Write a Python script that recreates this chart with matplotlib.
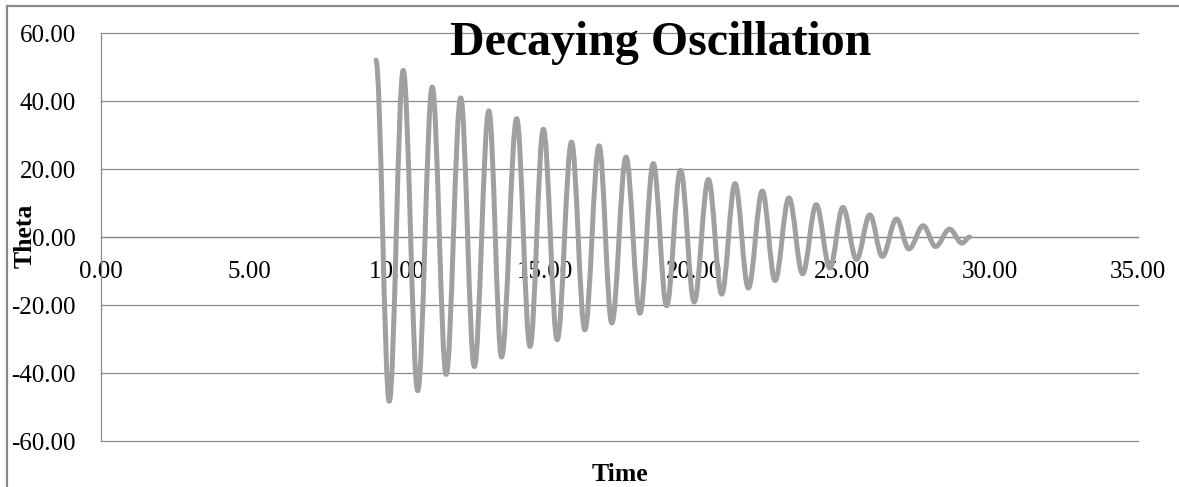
import matplotlib
matplotlib.use("Agg")
import matplotlib.pyplot as plt
from matplotlib.path import Path
from matplotlib.patches import PathPatch
from matplotlib.lines import Line2D

# turning points of the curve (time, theta)
times = [9.28, 9.73, 10.20, 10.69, 11.18, 11.65, 12.14, 12.60, 13.09, 13.52,
         14.03, 14.48, 14.93, 15.40, 15.88, 16.33, 16.81, 17.24, 17.72, 18.19,
         18.64, 19.09, 19.56, 20.02, 20.50, 20.95, 21.40, 21.85, 22.32, 22.75,
         23.22, 23.68, 24.14, 24.60, 25.04, 25.50, 25.95, 26.37, 26.85, 27.27,
         27.75, 28.17, 28.64, 29.06, 29.32]
theta = [52.0, -48.3, 49.0, -45.2, 44.1, -40.4, 40.9, -38.1, 37.1, -35.3,
         34.8, -32.2, 31.7, -30.2, 27.9, -27.3, 26.8, -25.3, 23.5, -22.4,
         21.6, -20.2, 19.6, -19.1, 16.9, -16.8, 15.7, -15.0, 13.5, -12.8,
         11.5, -10.8, 9.5, -9.1, 8.7, -6.6, 6.5, -5.7, 5.3, -3.5,
         3.3, -2.8, 2.3, -1.8, 0.0]

x_ticks = [0, 5, 10, 15, 20, 25, 30, 35]
y_ticks = [-60, -40, -20, 0, 20, 40, 60]

plt.rcParams["font.family"] = ["Liberation Serif", "DejaVu Serif"]

W, H = 1179, 487
fig = plt.figure(figsize=(W / 100, H / 100), dpi=100)
ax = fig.add_axes([101 / W, 1 - 441 / H, (1138 - 101) / W, (441 - 33) / H])

grid_col = "#8a8a8a"
ax.set_xlim(0, 35)
ax.set_ylim(-60, 60)
ax.set_xticks(x_ticks)
ax.set_yticks(y_ticks)
ax.set_xticklabels(["%.2f" % v for v in x_ticks])
ax.set_yticklabels(["%.2f" % v for v in y_ticks])
ax.yaxis.grid(True, color=grid_col, linewidth=0.9)
for gl in ax.get_ygridlines():
    gl.set_clip_on(False)
ax.set_axisbelow(True)
ax.spines["top"].set_visible(False)
ax.spines["right"].set_visible(False)
ax.spines["left"].set_color(grid_col)
ax.spines["left"].set_linewidth(0.9)
ax.spines["bottom"].set_position(("data", 0))
ax.spines["bottom"].set_color(grid_col)
ax.spines["bottom"].set_linewidth(0.9)
ax.tick_params(axis="x", length=0, pad=17, labelsize=18)
ax.tick_params(axis="y", length=0, pad=18, labelsize=18)

# smoothed line (like Excel's smoothed scatter) through the turning points
k = 0.3634
verts = [(times[0], theta[0])]
codes = [Path.MOVETO]
for i in range(1, len(times)):
    t0, v0 = times[i - 1], theta[i - 1]
    t1, v1 = times[i], theta[i]
    dt = t1 - t0
    verts += [(t0 + k * dt, v0), (t1 - k * dt, v1), (t1, v1)]
    codes += [Path.CURVE4] * 3
curve = PathPatch(Path(verts, codes), fill=False, edgecolor="#a0a0a0",
                  linewidth=3.6, capstyle="round", joinstyle="round", zorder=3)
ax.add_patch(curve)

fig.text(661 / W, 1 - 55 / H, "Decaying Oscillation", fontsize=34.5,
         fontweight="bold", ha="center", va="baseline")
fig.text(620 / W, 1 - 481 / H, "Time", fontsize=18.5, fontweight="bold",
         ha="center", va="baseline")
fig.text(25 / W, 1 - 236 / H, "Theta", fontsize=18.5, fontweight="bold",
         rotation=90, ha="center", va="center")

# chart area border (partly cropped in the original)
fig.add_artist(Line2D([7 / W, 7 / W], [0, 1 - 6 / H], transform=fig.transFigure,
                      color="#8a8a8a", linewidth=1.6))
fig.add_artist(Line2D([7 / W, 1], [1 - 6 / H, 1 - 6 / H], transform=fig.transFigure,
                      color="#8a8a8a", linewidth=1.6))

fig.savefig("out.png", dpi=100)
